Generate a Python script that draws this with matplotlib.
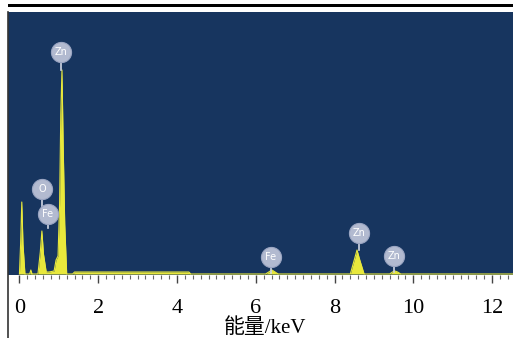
import numpy as np
import matplotlib
matplotlib.use("Agg")
import matplotlib.pyplot as plt
from matplotlib.lines import Line2D
from matplotlib.patches import Rectangle

# spectrum outline (energy in keV, counts in arbitrary units)
energy = [0.00, 0.03, 0.06, 0.09, 0.14, 0.26, 0.29, 0.32, 0.47, 0.53, 0.57, 0.61, 0.68,
          0.75, 0.88, 0.93, 0.98, 1.02, 1.05, 1.08, 1.11, 1.15, 1.20, 1.35, 1.40,
          4.30, 4.35, 6.25, 6.33, 6.41, 6.49, 6.57, 8.40, 8.50, 8.57, 8.64, 8.75,
          9.40, 9.47, 9.53, 9.60, 9.68, 12.6]
counts = [0, 30, 72, 30, 0, 0, 4, 0, 0, 22, 43, 20, 2,
          2, 3, 14, 18, 70, 160, 204, 130, 50, 0, 0, 2,
          2, 0, 0, 2, 4, 2, 0, 0, 14, 24, 14, 0,
          0, 2, 3, 2, 0, 0]

# element markers: text, circle position, bottom of stem
tag_text = ["Zn", "O", "Fe", "Fe", "Zn", "Zn"]
tag_e = [1.05, 0.57, 0.72, 6.38, 8.62, 9.50]
tag_c = [222, 85, 60, 17, 41, 18]
tag_stem = [204, 60, 46, 1, 24, 2]

bg = "#17355f"
yellow = "#e8e83c"

fig = plt.figure(figsize=(5.13, 3.38), dpi=100)
fig.patch.set_facecolor("white")
ax = fig.add_axes([8 / 513, 63 / 338, 505 / 513, 263 / 338])
ax.set_facecolor(bg)

ax.fill_between(energy, counts, 0, color=yellow, lw=0)
ax.plot(energy, counts, color=yellow, lw=0.8)

for t, e, c, s in zip(tag_text, tag_e, tag_c, tag_stem):
    ax.plot([e, e], [s, c], color="#d0d6e4", lw=1.2, zorder=3)
    ax.scatter([e], [c], s=210, color="#b2bad0", edgecolors="#9aa5c2",
               linewidths=0.8, zorder=4)
    ax.text(e, c, t, color="white", fontsize=7, ha="center", va="center",
            family="DejaVu Sans", zorder=5)

ax.set_xlim(-0.29, 12.53)
ax.set_ylim(-1, 262)
for sp in ax.spines.values():
    sp.set_visible(False)
ax.set_yticks([])
ax.set_xticks(np.arange(0, 13, 2))
ax.set_xticks(np.arange(0, 12.6, 0.2), minor=True)
ax.tick_params(axis="x", which="major", length=6, width=1, color="#444444",
               pad=11, labelsize=16)
ax.tick_params(axis="x", which="minor", length=3, width=0.8, color="#666666")
for lab in ax.get_xticklabels():
    lab.set_family("Liberation Serif")
ax.set_xlabel("能量/keV", fontsize=15, family=["Liberation Serif", "Noto Sans CJK SC"])
ax.xaxis.set_label_coords(0.509, -0.165)

# frame pieces outside the plot
fig.add_artist(Rectangle((8 / 513, 1 - 7 / 338), 1 - 8 / 513, 3.5 / 338,
                         transform=fig.transFigure, color="black", lw=0))
fig.add_artist(Line2D([8 / 513, 8 / 513], [0, 1 - 12 / 338],
                      transform=fig.transFigure, color="#333333", lw=1.2))

fig.savefig("out.png", dpi=100)
